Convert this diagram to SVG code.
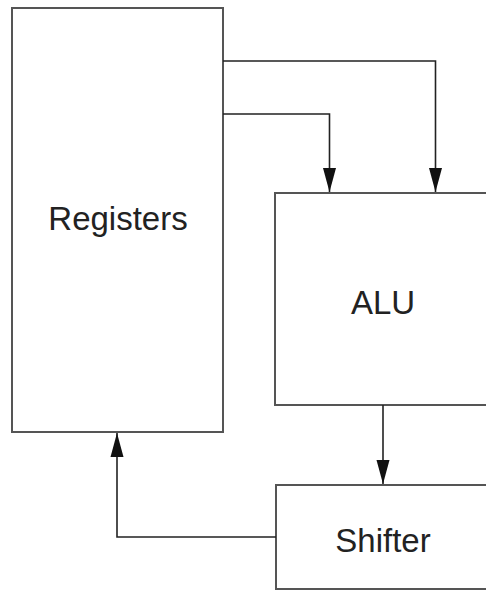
<svg xmlns="http://www.w3.org/2000/svg" width="486" height="590" viewBox="0 0 486 590">
<style>
.box{fill:#fff;stroke:#555;stroke-width:2}
.lbl{font-family:"Liberation Sans",Arial,sans-serif;font-size:33px;fill:#222;text-anchor:middle}
.wire{fill:none;stroke:#222;stroke-width:1.6}
</style>
<defs>
<marker id="arr" markerUnits="userSpaceOnUse" markerWidth="26" markerHeight="16" viewBox="0 0 26 16" refX="25" refY="8" orient="auto">
<path d="M1,1.5 L25,8 L1,14.5 Z" fill="#111"/>
</marker>
</defs>
<rect width="486" height="590" fill="#fff"/>
<g id="registers">
<rect class="box" x="12" y="8" width="211" height="424"/>
<text class="lbl" x="118" y="230">Registers</text>
</g>
<g id="alu">
<rect class="box" x="275" y="193" width="240" height="212"/>
<text class="lbl" x="383" y="314">ALU</text>
</g>
<g id="shifter">
<rect class="box" x="276" y="485" width="240" height="104"/>
<text class="lbl" x="383" y="552">Shifter</text>
</g>
<g id="connectors">
<path class="wire" d="M223,61 H435.5 V192" marker-end="url(#arr)"/>
<path class="wire" d="M223,114 H329.5 V192" marker-end="url(#arr)"/>
<path class="wire" d="M383,405 V484" marker-end="url(#arr)"/>
<path class="wire" d="M276,537 H117 V433" marker-end="url(#arr)"/>
</g>
</svg>
